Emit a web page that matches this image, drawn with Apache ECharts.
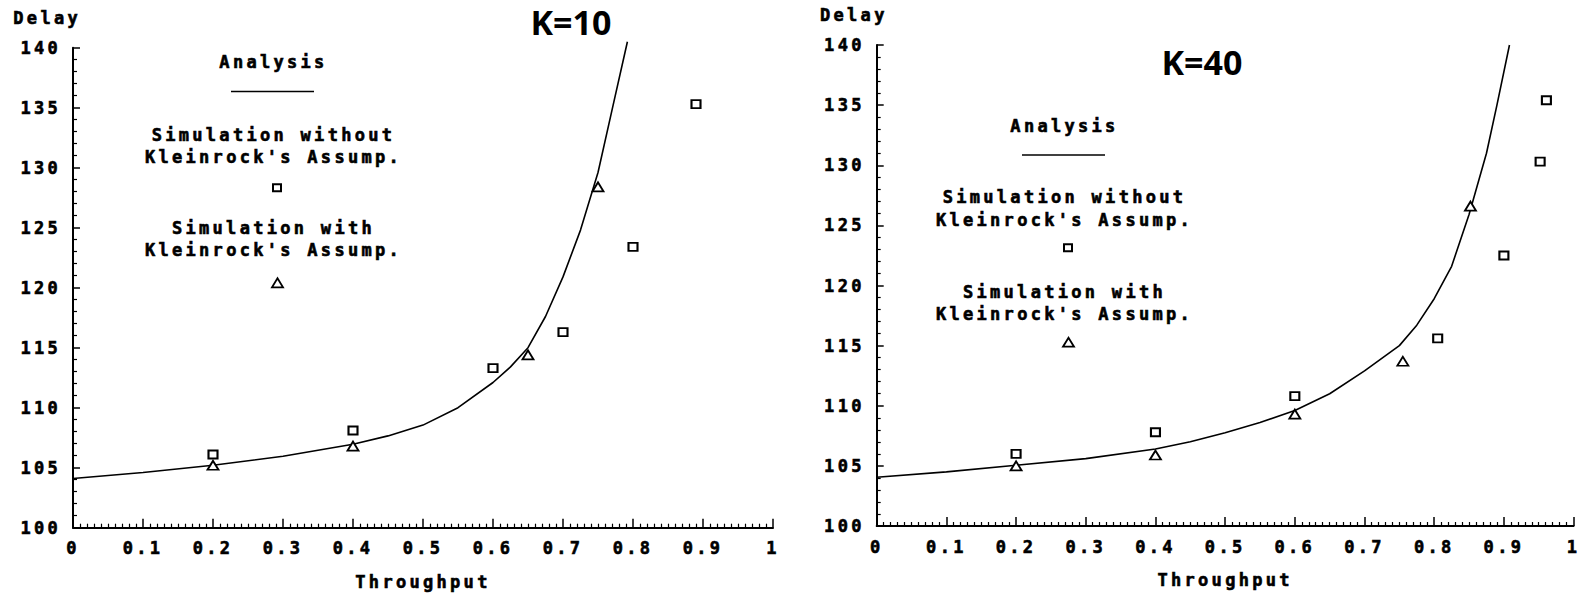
<!DOCTYPE html>
<html>
<head>
<meta charset="utf-8">
<script src="https://cdn.jsdelivr.net/npm/echarts@6/dist/echarts.min.js"></script>
<style>
  html, body { margin: 0; padding: 0; background: #fff; }
  #chart { width: 1582px; height: 596px; }
  /* wide, blocky lettering for the plotter-style labels */
  #chart text[style*="Mono"] { letter-spacing: 3.3px; }
</style>
</head>
<body>
<div id="chart"></div>
<script>
// ---- tick labels ----
const xTickLabels = ['0', '0.1', '0.2', '0.3', '0.4', '0.5', '0.6', '0.7', '0.8', '0.9', '1'];
const yTickLabels = ['100', '105', '110', '115', '120', '125', '130', '135', '140'];

// ---- K = 10 ----
const analysisX10 = [0, 0.1, 0.2, 0.3, 0.4, 0.45, 0.5, 0.55, 0.6, 0.625, 0.65, 0.675, 0.7, 0.725, 0.75, 0.77, 0.792];
const analysisY10 = [104.1, 104.6, 105.2, 105.95, 106.95, 107.65, 108.55, 110.0, 112.1, 113.4, 115.0, 117.6, 120.9, 124.8, 129.6, 134.8, 140.5];
const withoutX10 = [0.2, 0.4, 0.6, 0.7, 0.8, 0.89];
const withoutY10 = [106.1, 108.1, 113.3, 116.3, 123.4, 135.3];
const withX10 = [0.2, 0.4, 0.65, 0.75];
const withY10 = [105.2, 106.8, 114.4, 128.4];

// ---- K = 40 ----
const analysisX40 = [0, 0.1, 0.2, 0.3, 0.4, 0.45, 0.5, 0.55, 0.6, 0.65, 0.7, 0.75, 0.775, 0.8, 0.825, 0.85, 0.875, 0.89, 0.908];
const analysisY40 = [104.05, 104.5, 105.05, 105.6, 106.4, 107.0, 107.75, 108.6, 109.6, 111.0, 112.9, 115.0, 116.7, 118.9, 121.6, 125.9, 131.0, 135.0, 140.0];
const withoutX40 = [0.2, 0.4, 0.6, 0.805, 0.9, 0.952, 0.961];
const withoutY40 = [106.0, 107.8, 110.8, 115.6, 122.5, 130.3, 135.4];
const withX40 = [0.2, 0.4, 0.6, 0.755, 0.852];
const withY40 = [105.0, 105.9, 109.3, 113.7, 126.6];

const panelTitles = ['K=10', 'K=40'];
const legendTexts = ['Analysis', 'Simulation without', "Kleinrock's Assump.", 'Simulation with', "Kleinrock's Assump."];

const MONO = 'DejaVu Sans Mono';
const pairs = (xs, ys) => xs.map((x, i) => [x, ys[i]]);
const textBase = { color: '#000', fontFamily: MONO, fontWeight: 'bold', fontSize: 17, textBorderColor: '#000', textBorderWidth: 0.6 };

function xAxisFor(gridIndex) {
  return {
    type: 'value', gridIndex, min: 0, max: 1, interval: 0.1,
    name: 'Throughput', nameLocation: 'middle', nameGap: 54, nameMoveOverlap: false,
    nameTextStyle: Object.assign({ verticalAlign: 'middle' }, textBase),
    axisLine: { show: true, onZero: false, lineStyle: { color: '#000', width: 2 } },
    axisTick: { show: true, inside: true, length: 9, lineStyle: { color: '#000', width: 1.5 } },
    minorTick: { show: true, splitNumber: 10, length: 4, lineStyle: { color: '#000', width: 1.2 } },
    splitLine: { show: false },
    axisLabel: Object.assign({ margin: 12, formatter: (v, i) => xTickLabels[i] }, textBase)
  };
}
function yAxisFor(gridIndex, shift) {
  return {
    type: 'value', gridIndex, min: 100, max: 140, interval: 5,
    name: 'Delay', nameLocation: 'end', nameGap: 30, nameMoveOverlap: false,
    nameTextStyle: Object.assign({ align: 'right', verticalAlign: 'middle', padding: [0, -shift, 0, 0] }, textBase),
    axisLine: { show: true, onZero: false, lineStyle: { color: '#000', width: 2 } },
    axisTick: { show: true, inside: true, length: 7, lineStyle: { color: '#000', width: 1.5 } },
    minorTick: { show: true, splitNumber: 5, length: 4, lineStyle: { color: '#000', width: 1.2 } },
    splitLine: { show: false },
    axisLabel: Object.assign({ margin: 12, formatter: (v, i) => yTickLabels[i] }, textBase)
  };
}

function seriesFor(idx, ax, ay, sx, sy, tx, ty) {
  return [
    {
      type: 'line', xAxisIndex: idx, yAxisIndex: idx, data: pairs(ax, ay),
      showSymbol: false, smooth: false, clip: false,
      lineStyle: { color: '#000', width: 1.6 }, z: 3
    },
    {
      type: 'scatter', xAxisIndex: idx, yAxisIndex: idx, data: pairs(sx, sy),
      symbol: 'rect', symbolSize: [9, 8],
      itemStyle: { color: '#fff', borderColor: '#000', borderWidth: 2, opacity: 1 }, z: 4
    },
    {
      type: 'scatter', xAxisIndex: idx, yAxisIndex: idx, data: pairs(tx, ty),
      symbol: 'triangle', symbolSize: [11, 9],
      itemStyle: { color: '#fff', borderColor: '#000', borderWidth: 1.8, opacity: 1 }, z: 4
    }
  ];
}

// in-plot legend block: captions, analysis stroke, hollow markers
function legendBlock(cx, rows) {
  const txt = (s, y) => ({
    type: 'text', x: cx + 1.5, y,
    style: {
      text: s, fill: '#000', font: 'bold 17px ' + MONO, stroke: '#000', lineWidth: 0.6,
      textAlign: 'center', textVerticalAlign: 'middle'
    }
  });
  return [
    txt(legendTexts[0], rows.analysis),
    { type: 'line', shape: { x1: cx - 41, y1: rows.stroke, x2: cx + 42, y2: rows.stroke }, style: { stroke: '#000', lineWidth: 1.6 } },
    txt(legendTexts[1], rows.without1),
    txt(legendTexts[2], rows.without2),
    { type: 'rect', shape: { x: cx + 1, y: rows.square - 4, width: 8, height: 7 }, style: { fill: '#fff', stroke: '#000', lineWidth: 2 } },
    txt(legendTexts[3], rows.with1),
    txt(legendTexts[4], rows.with2),
    { type: 'polygon', shape: { points: [[cx + 5.5, rows.triangle - 5], [cx + 11, rows.triangle + 4], [cx, rows.triangle + 4]] }, style: { fill: '#fff', stroke: '#000', lineWidth: 1.8 } }
  ];
}

const titleStyle = (s) => ({ text: s, fill: '#000', font: 'bold 34px "Noto Sans"', textAlign: 'center', textVerticalAlign: 'middle' });

const option = {
  backgroundColor: '#fff',
  animation: false,
  grid: [
    { left: 73, top: 47.7, width: 700, height: 480 },
    { left: 876.7, top: 45, width: 700, height: 481 }
  ],
  xAxis: [xAxisFor(0), xAxisFor(1)],
  yAxis: [yAxisFor(0, 8), yAxisFor(1, 11)],
  series: [
    ...seriesFor(0, analysisX10, analysisY10, withoutX10, withoutY10, withX10, withY10),
    ...seriesFor(1, analysisX40, analysisY40, withoutX40, withoutY40, withX40, withY40)
  ],
  graphic: [
    { type: 'text', x: 571, y: 22, style: titleStyle(panelTitles[0]) },
    { type: 'text', x: 1202, y: 62, style: titleStyle(panelTitles[1]) },
    ...legendBlock(272, { analysis: 62, stroke: 91.5, without1: 135, without2: 156.7, square: 188.3, with1: 228.3, with2: 250, triangle: 283.3 }),
    ...legendBlock(1063, { analysis: 125.7, stroke: 155, without1: 196.7, without2: 220, square: 248.3, with1: 291.7, with2: 314, triangle: 342.7 })
  ]
};

const chart = echarts.init(document.getElementById('chart'), null, { renderer: 'svg' });
chart.setOption(option);
</script>
</body>
</html>
